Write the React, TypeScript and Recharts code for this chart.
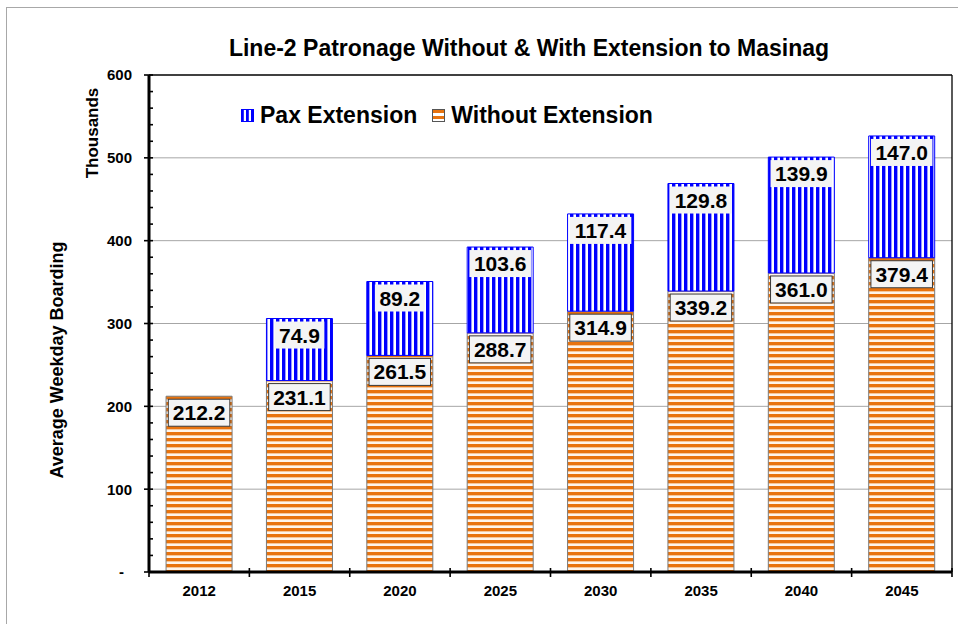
import {
  BarChart,
  Bar,
  XAxis,
  YAxis,
  CartesianGrid,
  Legend,
  LabelList,
  ReferenceLine,
  Label,
} from "recharts";

const years = ["2012", "2015", "2020", "2025", "2030", "2035", "2040", "2045"];
const withoutExtension = [212.2, 231.1, 261.5, 288.7, 314.9, 339.2, 361.0, 379.4];
const paxExtension = [null, 74.9, 89.2, 103.6, 117.4, 129.8, 139.9, 147.0];
const majorTicks = [100, 200, 300, 400, 500];
const minorStep = 20;

const data = years.map((year, i) => ({
  year,
  without: withoutExtension[i],
  ext: paxExtension[i],
}));

const allTicks = Array.from({ length: 600 / minorStep + 1 }, (_, i) => i * minorStep);

const FONT = '"Liberation Sans", Arial, Helvetica, sans-serif';
const ORANGE = "#E8730E";
const BLUE = "#0000FF";

// value box drawn at the top of each segment
const valueBox = (bordered: boolean) => (props: any) => {
  const vb = props.viewBox ?? props;
  const x = vb.x ?? props.x;
  const y = vb.y ?? props.y;
  const width = vb.width ?? props.width;
  const value = props.value;
  if (value == null || value === 0) return null;
  const text = Number(value).toFixed(1);
  const fs = 21;
  const w = [...text].reduce((s, c) => s + (c === "." ? 0.278 : 0.556), 0) * fs + 9;
  const h = 27;
  const cx = x + width / 2;
  const top = y + 3;
  return (
    <g>
      <rect
        x={cx - w / 2}
        y={top}
        width={w}
        height={h}
        fill="#f4f4f4"
        stroke={bordered ? "#3a3a3a" : "none"}
        strokeWidth={1}
      />
      <text
        x={cx}
        y={top + h / 2}
        dy="0.36em"
        textAnchor="middle"
        fontFamily={FONT}
        fontWeight="bold"
        fontSize={fs}
        fill="#000"
      >
        {text}
      </text>
    </g>
  );
};

const YTick = (props: any) => {
  const { x, y, payload } = props;
  const v = payload.value;
  const major = v % 100 === 0;
  return (
    <g>
      <line x1={major ? x - 5 : x} x2={x + 4} y1={y} y2={y} stroke="#000" strokeWidth={1.6} />
      {major && (
        <text
          x={v === 0 ? x - 25 : x - 17}
          y={y}
          dy="0.36em"
          textAnchor="end"
          fontFamily={FONT}
          fontWeight="bold"
          fontSize={15}
          fill="#000"
        >
          {v === 0 ? "-" : v}
        </text>
      )}
    </g>
  );
};

const XTick = (props: any) => {
  const { x, y, payload } = props;
  const half = payload.offset ?? 50;
  const last = payload.value === years[years.length - 1];
  return (
    <g>
      <line x1={x - half} x2={x - half} y1={y - 4} y2={y + 5} stroke="#000" strokeWidth={1.6} />
      {last && <line x1={x + half} x2={x + half} y1={y - 4} y2={y + 5} stroke="#000" strokeWidth={1.6} />}
      <text
        x={x}
        y={y + 24}
        textAnchor="middle"
        fontFamily={FONT}
        fontWeight="bold"
        fontSize={15}
        fill="#000"
      >
        {payload.value}
      </text>
    </g>
  );
};

const Swatch = ({ kind }: { kind: "blue" | "orange" }) => (
  <svg width={13} height={13} style={{ display: "block" }}>
    <defs>
      <pattern
        id={`sw-${kind}`}
        patternUnits="userSpaceOnUse"
        width={kind === "blue" ? 5 : 13}
        height={kind === "blue" ? 13 : 6}
      >
        <rect width={13} height={13} fill="#fff" />
        {kind === "blue" ? (
          <rect x={0} y={0} width={2.8} height={13} fill={BLUE} />
        ) : (
          <rect x={0} y={1} width={13} height={3} fill={ORANGE} />
        )}
      </pattern>
    </defs>
    <rect
      x={0.5}
      y={0.5}
      width={12}
      height={12}
      fill={`url(#sw-${kind})`}
      stroke={kind === "blue" ? BLUE : "#555"}
      strokeWidth={1}
    />
  </svg>
);

const LegendContent = () => (
  <div
    style={{
      display: "flex",
      alignItems: "center",
      fontFamily: FONT,
      fontWeight: "bold",
      fontSize: 23,
      lineHeight: "26px",
      whiteSpace: "nowrap",
      color: "#000",
    }}
  >
    <Swatch kind="blue" />
    <span style={{ marginLeft: 6 }}>Pax Extension</span>
    <span style={{ marginLeft: 15 }}>
      <Swatch kind="orange" />
    </span>
    <span style={{ marginLeft: 6 }}>Without Extension</span>
  </div>
);

export default function App() {
  return (
    <div
      style={{
        position: "absolute",
        left: 0,
        top: 0,
        width: 958,
        height: 624,
        overflow: "hidden",
        background: "#fff",
      }}
    >
      <div
        style={{
          position: "absolute",
          left: 6,
          top: 7,
          width: 1000,
          height: 1000,
          border: "1.5px solid #a8a8a8",
        }}
      />
      <div
        style={{
          position: "absolute",
          left: 0,
          top: 37,
          width: 958,
          boxSizing: "border-box",
          paddingLeft: 100,
          textAlign: "center",
          fontFamily: FONT,
          fontWeight: "bold",
          fontSize: 23,
          lineHeight: "23px",
          color: "#000",
          whiteSpace: "nowrap",
        }}
      >
        Line-2 Patronage Without &amp; With Extension to Masinag
      </div>
      <div style={{ position: "absolute", left: 0, top: 0 }}>
        <BarChart
          width={958}
          height={624}
          data={data}
          margin={{ top: 75, right: 0, bottom: 22, left: 89 }}
          barCategoryGap="17%"
        >
          <defs>
            <pattern id="orangeStripe" patternUnits="userSpaceOnUse" width={8} height={6}>
              <rect width={8} height={6} fill="#fef4ea" />
              <rect x={0} y={0} width={8} height={3} fill={ORANGE} />
              <rect x={0} y={3} width={8} height={1} fill="#f6c69a" />
            </pattern>
            <pattern id="blueStripe" patternUnits="userSpaceOnUse" width={6} height={10}>
              <rect width={6} height={10} fill="#fff" />
              <rect x={0} y={0} width={3.4} height={10} fill={BLUE} />
            </pattern>
          </defs>
          <CartesianGrid
            vertical={false}
            stroke="#a6a6a6"
            strokeWidth={1}
            horizontalValues={majorTicks}
          />
          <XAxis
            dataKey="year"
            tickLine={false}
            tickSize={0}
            tickMargin={0}
            height={30}
            axisLine={{ stroke: "#000", strokeWidth: 3 }}
            tick={<XTick />}
            interval={0}
          />
          <YAxis
            type="number"
            domain={[0, 600]}
            ticks={allTicks}
            interval={0}
            width={60}
            tickLine={false}
            tickSize={0}
            tickMargin={0}
            axisLine={{ stroke: "#000", strokeWidth: 3 }}
            tick={<YTick />}
          >
            <Label
              content={({ viewBox }: any) => (
                <text
                  x={viewBox.x - 32}
                  y={viewBox.y + 285}
                  transform={`rotate(-90 ${viewBox.x - 32} ${viewBox.y + 285})`}
                  textAnchor="middle"
                  dominantBaseline="central"
                  fontFamily={FONT}
                  fontWeight="bold"
                  fontSize={18}
                  fill="#000"
                >
                  Average Weekday Boarding
                </text>
              )}
            />
            <Label
              content={({ viewBox }: any) => (
                <text
                  x={viewBox.x + 3}
                  y={viewBox.y + 58}
                  transform={`rotate(-90 ${viewBox.x + 3} ${viewBox.y + 58})`}
                  textAnchor="middle"
                  dominantBaseline="central"
                  fontFamily={FONT}
                  fontWeight="bold"
                  fontSize={17}
                  fill="#000"
                >
                  Thousands
                </text>
              )}
            />
          </YAxis>
          <YAxis
            yAxisId="frame"
            orientation="right"
            type="number"
            domain={[0, 600]}
            width={6}
            tick={false}
            tickLine={false}
            axisLine={{ stroke: "#000", strokeWidth: 1.3 }}
          />
          <ReferenceLine y={600} stroke="#000" strokeWidth={1.3} />
          <Legend
            layout="horizontal"
            verticalAlign="middle"
            align="center"
            wrapperStyle={{ left: 241, top: 102, width: "auto", height: 26 }}
            content={<LegendContent />}
          />
          <Bar
            dataKey="without"
            stackId="s"
            fill="url(#orangeStripe)"
            stroke="#7a7a7a"
            strokeWidth={1}
            isAnimationActive={false}
          >
            <LabelList dataKey="without" content={valueBox(true)} />
          </Bar>
          <Bar
            dataKey="ext"
            stackId="s"
            fill="url(#blueStripe)"
            stroke={BLUE}
            strokeWidth={1}
            isAnimationActive={false}
          >
            <LabelList dataKey="ext" content={valueBox(false)} />
          </Bar>
        </BarChart>
      </div>
    </div>
  );
}
